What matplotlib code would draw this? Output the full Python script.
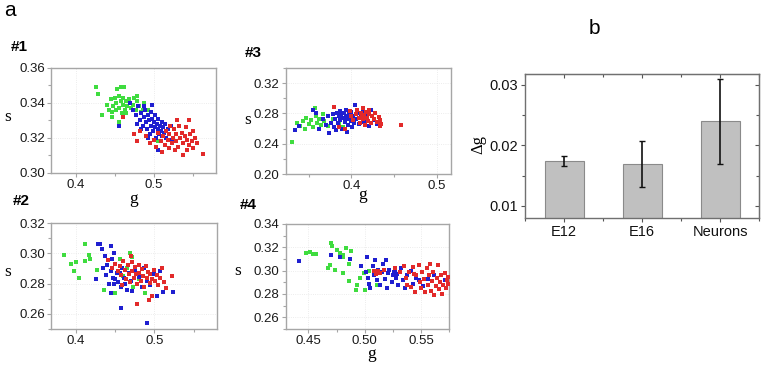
import numpy as np
import matplotlib.pyplot as plt
from matplotlib.ticker import MultipleLocator, AutoMinorLocator

plt.rcParams['font.family'] = ['Liberation Sans', 'DejaVu Sans']

# ---- datos: paneles de dispersión (g, s) ----
# panel #1
p1_green_g = [0.426, 0.429, 0.453, 0.458, 0.462, 0.433, 0.446, 0.456, 0.445, 0.448,
              0.450, 0.452, 0.455, 0.456, 0.458, 0.460, 0.461, 0.463, 0.464, 0.466,
              0.468, 0.470, 0.471, 0.473, 0.475, 0.477, 0.479, 0.481, 0.484, 0.486,
              0.440, 0.442, 0.447, 0.452, 0.459, 0.465, 0.478, 0.488, 0.492, 0.506]
p1_green_s = [0.349, 0.345, 0.348, 0.349, 0.349, 0.333, 0.332, 0.329, 0.342, 0.338,
              0.343, 0.340, 0.344, 0.337, 0.341, 0.343, 0.339, 0.336, 0.341, 0.338,
              0.342, 0.340, 0.337, 0.339, 0.343, 0.336, 0.341, 0.338, 0.335, 0.336,
              0.339, 0.336, 0.335, 0.336, 0.334, 0.334, 0.344, 0.340, 0.336, 0.318]
p1_blue_g = [0.456, 0.506, 0.473, 0.477, 0.480, 0.482, 0.484, 0.486, 0.487, 0.489,
             0.490, 0.491, 0.492, 0.494, 0.495, 0.496, 0.497, 0.498, 0.499, 0.500,
             0.501, 0.502, 0.503, 0.504, 0.505, 0.506, 0.507, 0.508, 0.509, 0.510,
             0.511, 0.512, 0.513, 0.515, 0.516, 0.518, 0.520, 0.522, 0.524, 0.478,
             0.483, 0.493, 0.488, 0.470, 0.498]
p1_blue_s = [0.327, 0.313, 0.336, 0.333, 0.338, 0.330, 0.334, 0.327, 0.332, 0.336,
             0.329, 0.325, 0.333, 0.330, 0.322, 0.327, 0.335, 0.331, 0.324, 0.329,
             0.326, 0.333, 0.320, 0.328, 0.325, 0.331, 0.322, 0.327, 0.324, 0.329,
             0.321, 0.326, 0.323, 0.328, 0.320, 0.325, 0.322, 0.327, 0.319, 0.328,
             0.325, 0.320, 0.338, 0.340, 0.339]
p1_red_g = [0.563, 0.537, 0.543, 0.460, 0.475, 0.478, 0.482, 0.490, 0.495, 0.500,
            0.503, 0.506, 0.509, 0.512, 0.514, 0.516, 0.518, 0.520, 0.521, 0.523,
            0.525, 0.526, 0.528, 0.529, 0.531, 0.532, 0.534, 0.536, 0.538, 0.540,
            0.541, 0.543, 0.545, 0.547, 0.549, 0.551, 0.553, 0.545, 0.530, 0.519,
            0.527, 0.510, 0.550, 0.556]
p1_red_s = [0.311, 0.310, 0.313, 0.332, 0.322, 0.318, 0.324, 0.321, 0.317, 0.319,
            0.315, 0.323, 0.318, 0.321, 0.316, 0.324, 0.319, 0.322, 0.327, 0.317,
            0.320, 0.325, 0.318, 0.322, 0.315, 0.327, 0.320, 0.323, 0.317, 0.321,
            0.326, 0.319, 0.316, 0.322, 0.318, 0.314, 0.320, 0.330, 0.330, 0.314,
            0.313, 0.312, 0.324, 0.317]

# panel #2
p2_green_g = [0.384, 0.394, 0.400, 0.398, 0.404, 0.412, 0.412, 0.417, 0.418, 0.427,
              0.436, 0.450, 0.456, 0.469, 0.472, 0.465, 0.473, 0.488, 0.481, 0.460]
p2_green_s = [0.2987, 0.2927, 0.2940, 0.2880, 0.2838, 0.3060, 0.2950, 0.2987, 0.2960, 0.2890,
              0.2760, 0.2735, 0.2960, 0.3000, 0.2976, 0.2900, 0.2780, 0.2738, 0.2827, 0.2850]
p2_blue_g = [0.428, 0.431, 0.433, 0.444, 0.449, 0.425, 0.444, 0.458, 0.491, 0.524,
             0.511, 0.435, 0.438, 0.440, 0.442, 0.445, 0.447, 0.449, 0.450, 0.452,
             0.454, 0.456, 0.457, 0.459, 0.461, 0.463, 0.465, 0.468, 0.470, 0.472,
             0.475, 0.478, 0.481, 0.484, 0.487, 0.490, 0.495, 0.499, 0.503, 0.507,
             0.446, 0.437]
p2_blue_s = [0.3060, 0.3060, 0.3027, 0.3047, 0.3000, 0.2827, 0.2738, 0.2638, 0.2540, 0.2744,
             0.2744, 0.2905, 0.2855, 0.2925, 0.2800, 0.2885, 0.2835, 0.2795, 0.2827, 0.2870,
             0.2810, 0.2870, 0.2775, 0.2905, 0.2840, 0.2800, 0.2760, 0.2870, 0.2815, 0.2750,
             0.2885, 0.2800, 0.2845, 0.2775, 0.2905, 0.2820, 0.2790, 0.2860, 0.2720, 0.2880,
             0.2960, 0.2980]
p2_red_g = [0.522, 0.478, 0.441, 0.446, 0.450, 0.453, 0.456, 0.458, 0.460, 0.462,
            0.464, 0.466, 0.468, 0.469, 0.471, 0.472, 0.474, 0.475, 0.477, 0.478,
            0.480, 0.481, 0.483, 0.484, 0.486, 0.487, 0.489, 0.490, 0.492, 0.494,
            0.495, 0.497, 0.499, 0.501, 0.503, 0.505, 0.507, 0.510, 0.512, 0.515,
            0.497, 0.493, 0.470, 0.459]
p2_red_s = [0.2853, 0.2667, 0.2955, 0.2905, 0.2930, 0.2880, 0.2915, 0.2855, 0.2950, 0.2890,
            0.2830, 0.2920, 0.2865, 0.2810, 0.2945, 0.2885, 0.2840, 0.2910, 0.2860, 0.2795,
            0.2925, 0.2870, 0.2820, 0.2895, 0.2850, 0.2780, 0.2915, 0.2840, 0.2875, 0.2805,
            0.2860, 0.2830, 0.2890, 0.2815, 0.2855, 0.2790, 0.2840, 0.2900, 0.2810, 0.2770,
            0.2720, 0.2690, 0.2985, 0.2790]

# panel #3
p3_green_g = [0.330, 0.336, 0.340, 0.343, 0.345, 0.347, 0.350, 0.352, 0.355, 0.357,
              0.358, 0.360, 0.362, 0.364, 0.366, 0.368, 0.372, 0.390, 0.385, 0.378]
p3_green_s = [0.242, 0.267, 0.263, 0.270, 0.260, 0.274, 0.266, 0.271, 0.262, 0.287,
              0.276, 0.268, 0.273, 0.265, 0.279, 0.270, 0.264, 0.262, 0.268, 0.272]
p3_blue_g = [0.333, 0.338, 0.355, 0.358, 0.362, 0.366, 0.370, 0.372, 0.374, 0.376,
             0.378, 0.380, 0.381, 0.383, 0.384, 0.385, 0.386, 0.387, 0.388, 0.389,
             0.390, 0.391, 0.392, 0.393, 0.394, 0.395, 0.396, 0.397, 0.398, 0.399,
             0.400, 0.401, 0.402, 0.403, 0.404, 0.405, 0.407, 0.409, 0.411, 0.413,
             0.415, 0.418, 0.420, 0.423, 0.426, 0.430, 0.382, 0.395]
p3_blue_s = [0.258, 0.264, 0.284, 0.281, 0.259, 0.272, 0.265, 0.276, 0.254, 0.268,
             0.279, 0.262, 0.273, 0.280, 0.267, 0.276, 0.283, 0.271, 0.278, 0.259,
             0.274, 0.281, 0.269, 0.277, 0.284, 0.272, 0.265, 0.279, 0.275, 0.270,
             0.282, 0.262, 0.277, 0.268, 0.291, 0.273, 0.280, 0.266, 0.275, 0.283,
             0.269, 0.277, 0.263, 0.285, 0.271, 0.266, 0.258, 0.256]
p3_red_g = [0.380, 0.385, 0.392, 0.398, 0.402, 0.405, 0.407, 0.409, 0.410, 0.411,
            0.412, 0.413, 0.414, 0.415, 0.416, 0.417, 0.418, 0.419, 0.420, 0.421,
            0.423, 0.424, 0.426, 0.428, 0.430, 0.432, 0.433, 0.434, 0.435, 0.458, 0.400]
p3_red_s = [0.289, 0.262, 0.260, 0.283, 0.271, 0.279, 0.285, 0.274, 0.268, 0.281,
            0.276, 0.287, 0.272, 0.278, 0.265, 0.282, 0.274, 0.270, 0.279, 0.285,
            0.267, 0.276, 0.272, 0.280, 0.269, 0.275, 0.264, 0.271, 0.266, 0.265, 0.276]

# panel #4
p4_green_g = [0.448, 0.451, 0.454, 0.457, 0.470, 0.471, 0.478, 0.481, 0.483, 0.481,
              0.488, 0.467, 0.469, 0.474, 0.481, 0.486, 0.492, 0.496, 0.493, 0.500,
              0.499, 0.504, 0.486, 0.475, 0.511]
p4_green_s = [0.3151, 0.3157, 0.3146, 0.3146, 0.3237, 0.3209, 0.3151, 0.3137, 0.3194, 0.3120,
              0.3171, 0.3023, 0.3051, 0.3006, 0.2980, 0.2909, 0.2837, 0.2937, 0.2880, 0.2834,
              0.2980, 0.2994, 0.3060, 0.3175, 0.2880]
p4_blue_g = [0.442, 0.470, 0.478, 0.487, 0.502, 0.497, 0.501, 0.503, 0.504, 0.505,
             0.507, 0.508, 0.509, 0.511, 0.512, 0.514, 0.515, 0.516, 0.518, 0.519,
             0.520, 0.521, 0.522, 0.524, 0.525, 0.526, 0.527, 0.528, 0.529, 0.530,
             0.532, 0.534, 0.536, 0.538, 0.541, 0.543, 0.546, 0.548, 0.552, 0.556,
             0.562, 0.571]
p4_blue_s = [0.3080, 0.3137, 0.3120, 0.3100, 0.3120, 0.3037, 0.2990, 0.2940, 0.2890, 0.2850,
             0.3040, 0.2960, 0.3090, 0.2920, 0.3010, 0.2880, 0.2990, 0.3060, 0.2930, 0.3090,
             0.2850, 0.2980, 0.3010, 0.2900, 0.2960, 0.2990, 0.3000, 0.2940, 0.2970, 0.2880,
             0.3020, 0.2920, 0.2850, 0.2960, 0.3000, 0.2890, 0.2940, 0.2920, 0.2870, 0.2930,
             0.2960, 0.2920]
p4_red_g = [0.508, 0.510, 0.512, 0.514, 0.517, 0.527, 0.531, 0.535, 0.537, 0.539,
            0.541, 0.543, 0.545, 0.546, 0.548, 0.549, 0.550, 0.551, 0.553, 0.554,
            0.555, 0.556, 0.557, 0.558, 0.559, 0.560, 0.561, 0.562, 0.563, 0.564,
            0.565, 0.566, 0.567, 0.568, 0.569, 0.570, 0.571, 0.572, 0.573, 0.574,
            0.574, 0.544, 0.538]
p4_red_s = [0.2994, 0.2970, 0.3000, 0.2980, 0.3010, 0.3020, 0.2990, 0.3040, 0.2940, 0.2990,
            0.2860, 0.3030, 0.2820, 0.2960, 0.3050, 0.2900, 0.2850, 0.2990, 0.2930, 0.2814,
            0.3020, 0.2880, 0.2960, 0.3060, 0.2830, 0.2910, 0.2990, 0.2790, 0.2870, 0.2940,
            0.3050, 0.2840, 0.2900, 0.2960, 0.2800, 0.2880, 0.2980, 0.2850, 0.2920, 0.2890,
            0.2950, 0.2970, 0.2880]

# ---- datos: panel b ----
categorias = ['E12', 'E16', 'Neurons']
delta_g = [0.0174, 0.0169, 0.0240]
delta_g_err = [0.0008, 0.0038, 0.0070]

# colores
verde = '#3fdc3f'
azul = '#1f1fd0'
rojo = '#e22a2a'
marco = '#a6a6a6'

fig = plt.figure(figsize=(7.64, 3.65), dpi=100)
W, H = 764.0, 365.0


def eje(x0, y0, x1, y1):
    # coordenadas en pixeles (origen arriba a la izquierda)
    return fig.add_axes([x0 / W, 1 - y1 / H, (x1 - x0) / W, (y1 - y0) / H])


def px(x, y):
    return x / W, 1 - y / H


paneles = [
    # (caja px, datos, xlim, ylim, xticks, yticks, fmt x, pos g, titulo, pos titulo, pos s)
    ((51, 68, 216, 173), (p1_green_g, p1_green_s, p1_blue_g, p1_blue_s, p1_red_g, p1_red_s),
     (0.368, 0.58), (0.30, 0.36), [0.4, 0.5], [0.30, 0.32, 0.34, 0.36], '{:.1f}',
     (134, 199), '#1', (11, 47), (8, 117)),
    ((51, 223, 217, 329), (p2_green_g, p2_green_s, p2_blue_g, p2_blue_s, p2_red_g, p2_red_s),
     (0.368, 0.58), (0.25, 0.32), [0.4, 0.5], [0.26, 0.28, 0.30, 0.32], '{:.1f}',
     None, '#2', (13, 201), (8, 272)),
    ((286, 68, 451, 174), (p3_green_g, p3_green_s, p3_blue_g, p3_blue_s, p3_red_g, p3_red_s),
     (0.323, 0.517), (0.20, 0.34), [0.4, 0.5], [0.20, 0.24, 0.28, 0.32], '{:.1f}',
     (363, 195), '#3', (245, 53), (248, 120)),
    ((286, 224, 449, 329), (p4_green_g, p4_green_s, p4_blue_g, p4_blue_s, p4_red_g, p4_red_s),
     (0.43, 0.575), (0.25, 0.34), [0.45, 0.50, 0.55], [0.26, 0.28, 0.30, 0.32, 0.34], '{:.2f}',
     (372, 354), '#4', (240, 205), (238, 271)),
]

for caja, d, xl, yl, xt, yt, fmt, pos_g, titulo, tpos, pos_s in paneles:
    ax = eje(*caja)
    ax.scatter(d[0], d[1], s=5, marker='s', color=verde, linewidths=0, zorder=3)
    ax.scatter(d[2], d[3], s=5, marker='s', color=azul, linewidths=0, zorder=3)
    ax.scatter(d[4], d[5], s=5, marker='s', color=rojo, linewidths=0, zorder=3)
    ax.set_xlim(*xl)
    ax.set_ylim(*yl)
    ax.set_xticks(xt)
    ax.set_xticklabels([fmt.format(v) for v in xt])
    ax.set_yticks(yt)
    ax.set_yticklabels(['{:.2f}'.format(v) for v in yt])
    ax.yaxis.set_minor_locator(AutoMinorLocator(2))
    ax.xaxis.set_minor_locator(AutoMinorLocator(2))
    ax.grid(True, which='major', color='#e6e6e6', linestyle=':', linewidth=0.6)
    for sp in ax.spines.values():
        sp.set_color(marco)
        sp.set_linewidth(1.0)
    ax.tick_params(which='both', direction='out', colors=marco, labelcolor='#1a1a1a',
                   labelsize=9.5, length=3, width=0.8, pad=1.5)
    ax.tick_params(which='minor', length=2)
    fig.text(*px(*pos_s), 's', family='Liberation Serif', fontsize=12.5,
             ha='center', va='center')
    if pos_g is not None:
        fig.text(*px(*pos_g), 'g', family='Liberation Serif', fontsize=12.5,
                 ha='center', va='center')
    fig.text(*px(*tpos), titulo, fontsize=11, fontweight='bold',
             ha='left', va='center')

# ---- panel b: barras ----
axb = eje(525, 74, 759, 218)
x = np.arange(len(categorias))
axb.bar(x, delta_g, width=0.5, color='#c0c0c0', edgecolor='#8a8a8a', linewidth=0.8, zorder=2)
axb.errorbar(x, delta_g, yerr=delta_g_err, fmt='none', ecolor='#111111', elinewidth=1.2,
             capsize=2.5, capthick=1.0, zorder=3)
axb.set_xlim(-0.5, 2.5)
axb.set_ylim(0.008, 0.0318)
axb.set_xticks(x)
axb.set_xticklabels(categorias)
axb.set_yticks([0.01, 0.02, 0.03])
axb.set_yticklabels(['0.01', '0.02', '0.03'])
axb.yaxis.set_minor_locator(MultipleLocator(0.005))
axb.xaxis.set_minor_locator(MultipleLocator(0.5))
for sp in axb.spines.values():
    sp.set_color('#707070')
    sp.set_linewidth(1.0)
axb.tick_params(which='both', direction='out', colors='#555555', labelcolor='#111111',
                labelsize=10.5, length=3, width=0.8, pad=2)
axb.tick_params(axis='y', labelsize=10.5)
axb.tick_params(which='minor', length=2.5)
# marcas interiores arriba y a la derecha
arriba = axb.secondary_xaxis('top')
arriba.set_xticks(x)
arriba.xaxis.set_minor_locator(MultipleLocator(0.5))
arriba.tick_params(which='both', direction='in', colors='#555555', length=3, width=0.8,
                   labeltop=False)
arriba.tick_params(which='minor', length=2)
derecha = axb.secondary_yaxis('right')
derecha.set_yticks([0.01, 0.02, 0.03])
derecha.yaxis.set_minor_locator(MultipleLocator(0.005))
derecha.tick_params(which='both', direction='in', colors='#555555', length=3, width=0.8,
                    labelright=False)
derecha.tick_params(which='minor', length=2)
for sec in (arriba, derecha):
    for sp in sec.spines.values():
        sp.set_color('#707070')
fig.text(*px(478, 145), '\u0394g', family='Liberation Serif', fontsize=12,
         rotation=90, ha='center', va='center')

# letras de los paneles
fig.text(*px(10, 10), 'a', fontsize=15, ha='center', va='center')
fig.text(*px(594, 28), 'b', fontsize=15, ha='center', va='center')

fig.savefig('out.png', dpi=100)
